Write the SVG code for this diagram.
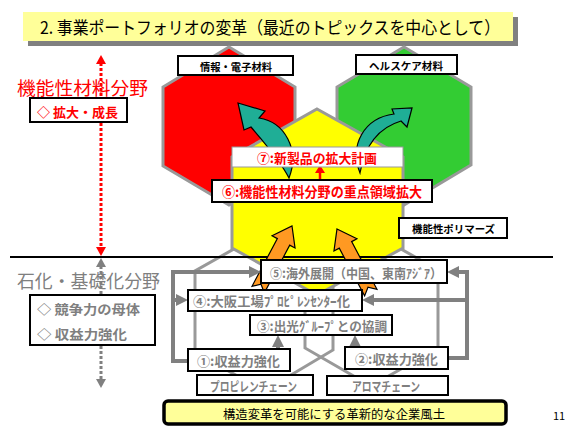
<svg xmlns="http://www.w3.org/2000/svg" width="570" height="428" viewBox="0 0 570 428">
<defs>
<style>
text { font-family: "Noto Sans CJK JP", "Noto Sans", sans-serif; dominant-baseline: central; }
.box { fill:#fff; stroke:#000; stroke-width:2; }
.hexline { fill:none; stroke:#999; stroke-width:3; }
.hex { stroke:#999; stroke-width:3; }
.gt { fill:#7f7f7f; font-weight:bold; font-size:13px; }
.rt { fill:#ff0000; font-weight:bold; }
.bt { fill:#000; font-weight:bold; font-size:10.5px; }
.conn { fill:none; stroke:#808080; stroke-width:4; }
.orange { fill:#ff9922; stroke:#000; stroke-width:1.2; }
.teal { fill:#1fae96; stroke:#000; stroke-width:1.2; }
</style>
<marker id="ga" markerUnits="userSpaceOnUse" markerWidth="12" markerHeight="12" refX="8" refY="6" orient="auto" viewBox="0 0 12 12"><path d="M0,0 L12,6 L0,12 Z" fill="#808080"/></marker>
</defs>

<g id="title">
<rect x="28" y="17" width="490" height="29" fill="#808080"/>
<rect x="23" y="12" width="490" height="29" fill="#ffff99"/>
<text x="40" y="26.5" font-size="17.5" textLength="460" lengthAdjust="spacingAndGlyphs">2. 事業ポートフォリオの変革（最近のトピックスを中心として）</text>
</g>

<g id="hex-propylene"><polygon class="hexline" points="264,232 333,272 333,350 264,391 195,352 195,271"/></g>
<g id="hex-aroma"><polygon class="hexline" points="371,232 438,270 438,348 371,386 305,348 305,270"/></g>
<g id="hex-red"><polygon class="hex" fill="#ff0000" points="229,47 295,87 295,166 229,205 163,166 163,87"/></g>
<g id="hex-green"><polygon class="hex" fill="#33cc33" points="404,47 471,87 471,165 404,205 337,165 337,87"/></g>
<g id="hex-yellow"><polygon class="hex" fill="#ffff00" points="317,109 403,157 403,248 317,295 232,248 232,157"/></g>

<line x1="10" y1="257" x2="553" y2="257" stroke="#000" stroke-width="2"/>

<g id="arrows-teal">
<path class="teal" d="M238,103 L265,111 L259,118 C285,122 300,150 289,178 C280,160 262,140 251,127 L244,130 Z"/>
<path class="teal" d="M412,108 L407,127 L401,121 C384,126 366,140 360,173 C349,145 364,118 394,114 L392,109 Z"/>
</g>
<g id="arrows-orange">
<polygon class="orange" transform="translate(292,226) rotate(28)" points="0,0 13,18 7,18 7,72 0,66 -7,72 -7,18 -13,18"/>
<polygon class="orange" transform="translate(337,229) rotate(-28)" points="0,0 13,18 7,18 7,72 0,66 -7,72 -7,18 -13,18"/>
</g>

<g id="side-arrows">
<line x1="101" y1="63" x2="101" y2="249" stroke="#ff0000" stroke-width="3" stroke-dasharray="3 2"/>
<polygon points="101,55 96,64 106,64" fill="#ff0000"/>
<polygon points="101,256 96,247 106,247" fill="#ff0000"/>
<line x1="101" y1="266" x2="101" y2="380" stroke="#808080" stroke-width="3" stroke-dasharray="3 2"/>
<polygon points="101,258 96,267 106,267" fill="#808080"/>
<polygon points="101,388 96,379 106,379" fill="#808080"/>
<line x1="320" y1="180" x2="320" y2="172" stroke="#ff0000" stroke-width="2.5"/>
<polygon points="320,165 315,173 325,173" fill="#ff0000"/>
</g>

<g id="connectors">
<path class="conn" d="M188,361 H173 V272 H257" marker-end="url(#ga)"/>
<path class="conn" d="M173,300 H184" marker-end="url(#ga)"/>
<path class="conn" d="M448,358 H467 V272 H451" marker-end="url(#ga)"/>
<path class="conn" d="M467,300 H366" marker-end="url(#ga)"/>
<path class="conn" d="M278,349 V339" marker-end="url(#ga)"/>
<path class="conn" d="M355,347 V339" marker-end="url(#ga)"/>
</g>

<text x="17" y="87" font-size="18.5" fill="#ff0000" textLength="131" lengthAdjust="spacingAndGlyphs">機能性材料分野</text>
<text x="17" y="280" font-size="18" fill="#7f7f7f" textLength="143" lengthAdjust="spacingAndGlyphs">石化・基礎化分野</text>

<g id="n-kakudai"><rect class="box" x="30" y="98" width="97" height="24"/>
<text class="rt" x="37" y="111" font-size="13" textLength="81" lengthAdjust="spacingAndGlyphs">◇ 拡大・成長</text></g>
<g id="n-kyoso"><rect class="box" x="30" y="295" width="125" height="50"/>
<text class="gt" x="37" y="308" textLength="103" lengthAdjust="spacingAndGlyphs">◇ 競争力の母体</text>
<text class="gt" x="37" y="333" textLength="90" lengthAdjust="spacingAndGlyphs">◇ 収益力強化</text></g>

<g id="n-joho"><rect class="box" x="178" y="56" width="115" height="19"/>
<text class="bt" x="200" y="66" textLength="72" lengthAdjust="spacingAndGlyphs">情報・電子材料</text></g>
<g id="n-health"><rect class="box" x="356" y="55" width="101" height="19"/>
<text class="bt" x="369" y="65" textLength="74" lengthAdjust="spacingAndGlyphs">ヘルスケア材料</text></g>
<g id="n-polymers"><rect class="box" x="399" y="218" width="108" height="20"/>
<text class="bt" x="412" y="228.5" textLength="83" lengthAdjust="spacingAndGlyphs">機能性ポリマーズ</text></g>

<g id="n7"><rect x="232" y="147" width="171" height="20" fill="#fff" stroke="#999" stroke-width="1"/>
<text class="rt" x="257" y="157.5" font-size="13" textLength="120" lengthAdjust="spacingAndGlyphs">⑦:新製品の拡大計画</text></g>
<g id="n6"><rect class="box" x="212" y="180" width="220" height="22"/>
<text class="rt" x="222" y="191" font-size="13.5" textLength="200" lengthAdjust="spacingAndGlyphs">⑥:機能性材料分野の重点領域拡大</text></g>

<g id="n5"><rect class="box" x="261" y="260" width="186" height="23"/>
<text class="gt" x="270" y="272" textLength="172" lengthAdjust="spacingAndGlyphs">⑤:海外展開（中国、東南ｱｼﾞｱ）</text></g>
<g id="n4"><rect class="box" x="188" y="290" width="174" height="21"/>
<text class="gt" x="193" y="300.5" textLength="157" lengthAdjust="spacingAndGlyphs">④:大阪工場ﾌﾟﾛﾋﾟﾚﾝｾﾝﾀｰ化</text></g>
<g id="n3"><rect class="box" x="250" y="315" width="142" height="20"/>
<text class="gt" x="257" y="325" textLength="130" lengthAdjust="spacingAndGlyphs">③:出光ｸﾞﾙｰﾌﾟとの協調</text></g>
<g id="n1"><rect class="box" x="188" y="349" width="102" height="22"/>
<text class="gt" x="197" y="360" textLength="83" lengthAdjust="spacingAndGlyphs">①:収益力強化</text></g>
<g id="n2"><rect class="box" x="345" y="347" width="103" height="22"/>
<text class="gt" x="355" y="358" textLength="83" lengthAdjust="spacingAndGlyphs">②:収益力強化</text></g>
<g id="n-propylene"><rect class="box" x="197" y="375" width="116" height="20"/>
<text class="gt" x="210" y="385" font-size="10.5" textLength="87" lengthAdjust="spacingAndGlyphs">プロピレンチェーン</text></g>
<g id="n-aroma"><rect class="box" x="327" y="376" width="121" height="19"/>
<text class="gt" x="352" y="385.5" font-size="10.5" textLength="68" lengthAdjust="spacingAndGlyphs">アロマチェーン</text></g>

<g id="n-culture"><rect x="164" y="401" width="342" height="23" rx="4" fill="#ffff99" stroke="#000" stroke-width="3.5"/>
<text x="223" y="413" font-size="12.5" textLength="222" lengthAdjust="spacingAndGlyphs">構造変革を可能にする革新的な企業風土</text></g>

<text x="553" y="420" font-family="Liberation Serif, serif" font-size="11" style="dominant-baseline:auto">11</text>
</svg>
